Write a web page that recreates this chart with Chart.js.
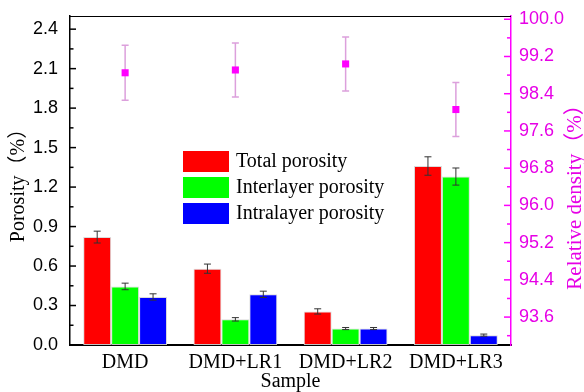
<!DOCTYPE html>
<html>
<head>
<meta charset="utf-8">
<script src="https://cdn.jsdelivr.net/npm/chart.js@4.4.1/dist/chart.umd.min.js"></script>
<style>
  body { margin: 0; background: #fff; }
  #wrap { width: 584px; height: 392px; }
</style>
</head>
<body>
<div id="wrap"><canvas id="porosity"></canvas></div>
<script>
const categories = ['DMD', 'DMD+LR1', 'DMD+LR2', 'DMD+LR3'];
const totalPorosity = [0.82, 0.58, 0.255, 1.36];
const totalErr = [0.045, 0.035, 0.02, 0.07];
const interPorosity = [0.445, 0.195, 0.125, 1.28];
const interErr = [0.025, 0.013, 0.008, 0.065];
const intraPorosity = [0.365, 0.385, 0.125, 0.075];
const intraErr = [0.024, 0.024, 0.008, 0.008];
const relDensity = [98.85, 98.91, 99.04, 98.06];
const relDensityErr = [0.59, 0.58, 0.58, 0.58];
const porosityTicks = [0, 0.3, 0.6, 0.9, 1.2, 1.5, 1.8, 2.1, 2.4];
const densityTicks = [93.6, 94.4, 95.2, 96.0, 96.8, 97.6, 98.4, 99.2, 100.0];

const magenta = '#ff00ff';
const serif = '"Liberation Serif", "Times New Roman", "Noto Sans CJK SC", serif';
const sans = '"Liberation Sans", Arial, sans-serif';

// error bars + inward ticks + top border + legend in the plot + right title
const extras = {
  id: 'extras',
  beforeDatasetsDraw(chart) {
    const ctx = chart.ctx;
    const meta = chart.getDatasetMeta(3);
    const y1 = chart.scales.y1;
    ctx.save();
    ctx.strokeStyle = '#dca0dc';
    ctx.lineWidth = 1.5;
    meta.data.forEach((pt, i) => {
      const top = y1.getPixelForValue(relDensity[i] + relDensityErr[i]);
      const bot = y1.getPixelForValue(relDensity[i] - relDensityErr[i]);
      ctx.beginPath();
      ctx.moveTo(pt.x, top); ctx.lineTo(pt.x, bot);
      ctx.moveTo(pt.x - 3.5, top); ctx.lineTo(pt.x + 3.5, top);
      ctx.moveTo(pt.x - 3.5, bot); ctx.lineTo(pt.x + 3.5, bot);
      ctx.stroke();
    });
    ctx.restore();
  },
  afterDatasetsDraw(chart) {
    const ctx = chart.ctx;
    const y = chart.scales.y;
    const errs = [totalErr, interErr, intraErr];
    ctx.save();
    ctx.strokeStyle = '#333';
    ctx.lineWidth = 1;
    for (let d = 0; d < 3; d++) {
      const vals = chart.data.datasets[d].data;
      chart.getDatasetMeta(d).data.forEach((bar, i) => {
        const top = y.getPixelForValue(vals[i] + errs[d][i]);
        const bot = y.getPixelForValue(vals[i] - errs[d][i]);
        ctx.beginPath();
        ctx.moveTo(bar.x, top); ctx.lineTo(bar.x, bot);
        ctx.moveTo(bar.x - 3.5, top); ctx.lineTo(bar.x + 3.5, top);
        ctx.moveTo(bar.x - 3.5, bot); ctx.lineTo(bar.x + 3.5, bot);
        ctx.stroke();
      });
    }
    ctx.restore();
  },
  afterDraw(chart) {
    const ctx = chart.ctx;
    const a = chart.chartArea;
    const y = chart.scales.y, y1 = chart.scales.y1;
    ctx.save();
    // top frame line
    ctx.strokeStyle = '#000';
    ctx.lineWidth = 1;
    ctx.beginPath();
    ctx.moveTo(a.left, a.top + 0.5); ctx.lineTo(a.right, a.top + 0.5);
    ctx.stroke();
    // left ticks (inward)
    ctx.lineWidth = 1.5;
    porosityTicks.forEach(v => {
      const p = y.getPixelForValue(v);
      ctx.beginPath(); ctx.moveTo(a.left, p); ctx.lineTo(a.left + 6, p); ctx.stroke();
      if (v + 0.15 < y.max) {
        const m = y.getPixelForValue(v + 0.15);
        ctx.beginPath(); ctx.moveTo(a.left, m); ctx.lineTo(a.left + 3.5, m); ctx.stroke();
      }
    });
    // right ticks (inward)
    ctx.strokeStyle = magenta;
    densityTicks.forEach(v => {
      const p = y1.getPixelForValue(v);
      ctx.beginPath(); ctx.moveTo(a.right, p); ctx.lineTo(a.right - 7, p); ctx.stroke();
      const m = y1.getPixelForValue(v - 0.4);
      ctx.beginPath(); ctx.moveTo(a.right, m); ctx.lineTo(a.right - 4, m); ctx.stroke();
    });
    // right axis title, reading bottom to top
    ctx.translate(y1.right - 9, a.top + 176);
    ctx.rotate(-Math.PI / 2);
    ctx.font = '21px ' + serif;
    ctx.fillStyle = '#e600e6';
    ctx.textAlign = 'center';
    ctx.textBaseline = 'middle';
    ctx.fillText('Relative density（%）', 0, 0);
    ctx.setTransform(1, 0, 0, 1, 0, 0);
    // legend
    ctx.font = '20px ' + serif;
    ctx.textAlign = 'left';
    ctx.textBaseline = 'middle';
    for (let d = 0; d < 3; d++) {
      const ds = chart.data.datasets[d];
      const bx = a.left + 113, by = a.top + 135 + d * 26;
      ctx.fillStyle = ds.backgroundColor;
      ctx.fillRect(bx, by, 46, 21);
      ctx.fillStyle = '#000';
      ctx.fillText(ds.label, bx + 53, by + 11);
    }
    ctx.restore();
  }
};

const barStyle = { borderColor: 'rgba(215,215,215,0.9)', borderWidth: 1, borderSkipped: false,
                   categoryPercentage: 0.76, barPercentage: 1.0, yAxisID: 'y', order: 2 };

new Chart(document.getElementById('porosity').getContext('2d'), {
  type: 'bar',
  data: {
    labels: categories,
    datasets: [
      { label: 'Total porosity', data: totalPorosity, backgroundColor: '#ff0000', ...barStyle },
      { label: 'Interlayer porosity', data: interPorosity, backgroundColor: '#00ff00', ...barStyle },
      { label: 'Intralayer porosity', data: intraPorosity, backgroundColor: '#0000ff', ...barStyle },
      { label: 'Relative density', type: 'line', data: relDensity, yAxisID: 'y1', showLine: false,
        pointStyle: 'rect', pointRadius: 5, backgroundColor: magenta, borderColor: magenta,
        borderWidth: 0, order: 1 }
    ]
  },
  options: {
    responsive: true,
    maintainAspectRatio: false,
    animation: false,
    layout: { padding: { top: 16, left: 0, right: 0, bottom: 0 } },
    plugins: { legend: { display: false }, tooltip: { enabled: false } },
    scales: {
      x: {
        grid: { display: false, drawTicks: false },
        border: { color: '#000', width: 2 },
        ticks: { color: '#000', font: { family: serif, size: 20 }, padding: 6, maxRotation: 0 },
        title: { display: true, text: 'Sample', color: '#000', font: { family: serif, size: 20, lineHeight: 1 }, padding: { top: -4, bottom: 0 } },
        afterFit(s) { s.height = 47; s.paddingLeft = 0; s.paddingRight = 0; }
      },
      y: {
        position: 'left',
        min: 0, max: 2.5,
        afterBuildTicks(s) { s.ticks = porosityTicks.map(v => ({ value: v })); },
        grid: { display: false, drawTicks: false },
        border: { color: '#000', width: 1.5 },
        ticks: { color: '#000', font: { family: sans, size: 18 }, padding: 12,
                 callback: v => v.toFixed(1) },
        title: { display: true, text: 'Porosity（%）', color: '#000', font: { family: serif, size: 20, lineHeight: 1.2 }, padding: { top: 7, bottom: 0 } },
        afterFit(s) { s.width = 70; s.paddingTop = 0; s.paddingBottom = 0; }
      },
      y1: {
        position: 'right',
        min: 93.0, max: 100.07,
        afterBuildTicks(s) { s.ticks = densityTicks.map(v => ({ value: v })); },
        grid: { display: false, drawTicks: false },
        border: { color: magenta, width: 1.5 },
        ticks: { color: '#e600e6', font: { family: sans, size: 18 }, padding: 8,
                 callback: v => v.toFixed(1) },
        afterFit(s) { s.width = 73; s.paddingTop = 0; s.paddingBottom = 0; }
      }
    }
  },
  plugins: [extras]
});
</script>
</body>
</html>
